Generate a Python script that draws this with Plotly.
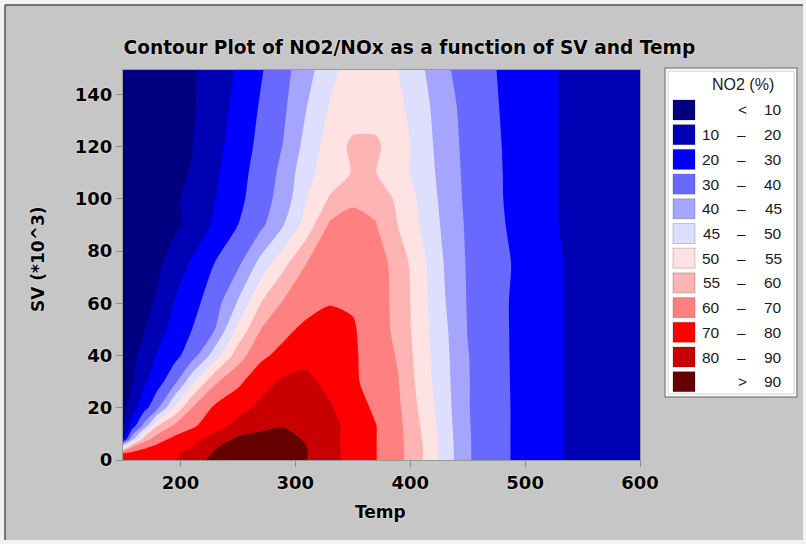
import numpy as np
import plotly.graph_objects as go

# ---------------- data ----------------
temp = [150, 158, 168, 180, 195, 210, 230, 250, 270, 290, 310, 330, 350, 370,
        390, 410, 430, 450, 475, 505, 535, 600]
sv = [0, 2.5, 5, 8, 13, 20, 30, 40, 50, 60, 75, 90, 100, 110, 120, 135, 150]

# NO2 (%) for each SV row, columns follow `temp`
no2_sv0 = [74, 75, 76, 76.5, 79.5, 85.4, 93, 97, 98, 97, 90, 83.1, 76.6, 70.3, 62.7, 55.4, 48, 40.5, 32.9, 25.8, 19.7, 13.5]
no2_sv2 = [71, 73, 73.5, 75.8, 78.5, 83, 91, 97, 98, 97, 90.3, 83.1, 76.6, 70.3, 62.7, 55.4, 48, 40.5, 32.9, 25.8, 19.7, 13.5]
no2_sv5 = [49, 60, 68.3, 72.4, 76, 79.5, 89, 95, 96, 95, 90, 83.1, 76.6, 70.3, 62.7, 55.4, 47.9, 40.5, 32.9, 25.8, 19.7, 13.5]
no2_sv8 = [19, 43.3, 57.1, 65.7, 72.6, 77, 83.3, 92, 94, 93.5, 88.8, 82.7, 76.6, 70.3, 62.7, 55, 47.7, 40.5, 32.9, 25.8, 19.7, 13.5]
no2_sv13 = [9.5, 25, 41.3, 55, 62.1, 68.3, 76.2, 83, 87, 89.5, 88, 83, 76.6, 70.3, 62.4, 54.6, 47.4, 40.4, 32.9, 25.8, 19.7, 13.5]
no2_sv20 = [6, 15, 26, 38, 50.8, 60, 71.8, 76.9, 82, 85, 84.5, 81, 74.7, 68.3, 61.4, 53.7, 47, 40.3, 32.9, 25.8, 19.7, 13.5]
no2_sv30 = [6, 9, 18, 25.9, 37.3, 48.6, 59.2, 67.8, 76.5, 81.5, 82, 77.4, 71.7, 65.9, 60.2, 52.8, 46.6, 40.3, 32.8, 25.7, 19.7, 13.5]
no2_sv40 = [6, 8.2, 12.3, 20.8, 27.1, 35.3, 47.5, 57.7, 67.8, 73.5, 77.5, 77, 71.5, 65.3, 59.5, 52.2, 46.3, 40.2, 32.7, 25.6, 19.7, 13.5]
no2_sv50 = [5.5, 7.1, 9.2, 15.7, 23.8, 30, 40, 51.1, 60, 67.1, 73, 75, 71, 64.8, 58.6, 51.9, 45.9, 39.7, 32.6, 25.6, 19.7, 13.5]
no2_sv60 = [5, 6, 7.5, 11.3, 20.4, 26.7, 35.5, 45.5, 55, 61.5, 65.5, 69.5, 69, 65, 58.3, 51.7, 45.3, 39.4, 32.5, 25.6, 19.7, 13.5]
no2_sv75 = [4.5, 5.5, 6.8, 8.5, 13.9, 21.7, 30.4, 38.1, 46.8, 53.8, 60.5, 65, 67, 65, 57.8, 51.4, 44.7, 39, 32.9, 26.1, 19.7, 13.5]
no2_sv90 = [3.8, 4.6, 5.7, 7.2, 8.8, 12, 21.7, 30, 37.7, 45, 52.2, 61.5, 64, 60.5, 54.7, 49.4, 43.9, 38.4, 31.8, 25.1, 18.8, 13]
no2_sv100 = [3.5, 4.3, 5.5, 7, 8.8, 12.5, 19.6, 27.6, 35.2, 42.3, 50, 55.5, 59, 58.5, 53.8, 48.9, 43.3, 37.9, 31.3, 24.8, 18.8, 13]
no2_sv110 = [3.2, 4, 5.1, 6.5, 8.3, 10.4, 18.4, 26.4, 34.1, 41.4, 48.6, 52.4, 55.3, 55.1, 51.7, 48.1, 42.8, 37.6, 31.2, 24.7, 18.8, 13]
no2_sv120 = [3, 3.7, 4.8, 6.2, 8, 9.7, 16.9, 24.8, 32.7, 40.3, 46.9, 52.3, 56, 55.8, 52.5, 47.6, 42.4, 37.3, 31, 24.6, 18.8, 13]
no2_sv135 = [2.5, 3, 4, 6, 7.5, 9, 15, 23, 31, 38.5, 45, 50.3, 52.5, 53, 51, 46.9, 41.8, 36.8, 30.5, 24.3, 19, 13]
no2_sv150 = [2, 3, 4, 5.5, 7, 9, 14, 21, 29, 37, 43, 48.5, 52, 53, 49.8, 45.6, 40.7, 36, 30, 24, 19, 13]

no2 = [no2_sv0, no2_sv2, no2_sv5, no2_sv8, no2_sv13, no2_sv20, no2_sv30,
       no2_sv40, no2_sv50, no2_sv60, no2_sv75, no2_sv90, no2_sv100,
       no2_sv110, no2_sv120, no2_sv135, no2_sv150]

level_breaks = [10, 20, 30, 40, 45, 50, 55, 60, 70, 80, 90]
band_colors = ['#000080', '#0000b4', '#0000ff', '#6969ff', '#a5a5ff', '#dedeff',
               '#ffe3e3', '#ffb4b4', '#ff8080', '#ff0000', '#c80000', '#640000']

x_ticks = [200, 300, 400, 500, 600]
y_ticks = [0, 20, 40, 60, 80, 100, 120, 140]

title_text = "Contour Plot of NO2/NOx as a function of SV and Temp"
x_title = "Temp"
y_title = "SV (*10^3)"
legend_title = "NO2 (%)"

# ---------------- figure ----------------
W, H = 806, 544
L, R, T, B = 123, 640, 70, 460          # plot area in pixels


def px2x(px):
    return (px - L) / (R - L)


def py2y(py):
    return (B - py) / (B - T)


# uneven class limits -> index space so that every band is one contour step
edges = [0] + level_breaks + [100]
z_idx = np.interp(np.array(no2, dtype=float), edges, np.arange(len(edges)))
n_bands = len(band_colors)
colorscale = [[i / (n_bands - 1), c] for i, c in enumerate(band_colors)]

fig = go.Figure()
fig.add_trace(go.Contour(
    x=temp, y=sv, z=z_idx,
    autocontour=False,
    contours=dict(start=1, end=len(level_breaks), size=1,
                  coloring='fill', showlines=False),
    colorscale=colorscale,
    line=dict(width=0, smoothing=0.7),
    showscale=False,
    hoverinfo='skip',
))

bold_font = dict(family='DejaVu Sans', size=18, color='black', weight='bold',
                 shadow='0px 0px 2px #fffbea')

fig.update_layout(
    width=W, height=H,
    margin=dict(l=L, r=W - R, t=T, b=H - B, pad=0),
    paper_bgcolor='#f2f2f2',
    plot_bgcolor='#000080',
    showlegend=False,
    title=dict(text=title_text, x=0.508, xanchor='center', xref='container',
               y=1 - 47 / H, yanchor='middle', yref='container',
               font=dict(family='DejaVu Sans', size=18.6, color='black', weight='bold',
                         shadow='0px 0px 2px #fffbea')),
    xaxis=dict(range=[150, 600], tickvals=x_ticks, ticks='outside', ticklen=6,
               tickcolor='#8a8a8a', showline=True, linecolor='#9a9a9a', mirror=True,
               showgrid=False, zeroline=False, tickfont=bold_font),
    yaxis=dict(range=[0, 149.3], tickvals=y_ticks, ticks='outside', ticklen=6,
               tickcolor='#8a8a8a', showline=True, linecolor='#9a9a9a', mirror=True,
               showgrid=False, zeroline=False, tickfont=bold_font),
)

shapes = []
# grey panel with a sunken frame
shapes.append(dict(type='rect', xref='paper', yref='paper', layer='below',
                   x0=px2x(5), x1=px2x(803), y0=py2y(5), y1=py2y(540),
                   fillcolor='#c6c6c6', line=dict(width=0)))
shapes.append(dict(type='line', xref='paper', yref='paper', layer='below',
                   x0=px2x(5), x1=px2x(803), y0=py2y(5), y1=py2y(5),
                   line=dict(color='#505050', width=1.5)))
shapes.append(dict(type='line', xref='paper', yref='paper', layer='below',
                   x0=px2x(5), x1=px2x(5), y0=py2y(5), y1=py2y(540),
                   line=dict(color='#505050', width=1.5)))
# legend box
shapes.append(dict(type='rect', xref='paper', yref='paper',
                   x0=px2x(665), x1=px2x(797), y0=py2y(68), y1=py2y(397),
                   fillcolor='white', line=dict(color='#8c8c8c', width=1.5)))
shapes.append(dict(type='rect', xref='paper', yref='paper',
                   x0=px2x(668), x1=px2x(794), y0=py2y(71), y1=py2y(394),
                   fillcolor='rgba(0,0,0,0)', line=dict(color='#d0d0d0', width=1)))

annotations = []
annotations.append(dict(text=x_title, xref='paper', yref='paper',
                        x=px2x(380.5), y=py2y(512), xanchor='center', yanchor='middle',
                        showarrow=False, font=dict(bold_font, size=17)))
annotations.append(dict(text=y_title, xref='paper', yref='paper',
                        x=px2x(38), y=py2y(260), xanchor='center', yanchor='middle',
                        textangle=-90, showarrow=False, font=dict(bold_font, size=17)))
annotations.append(dict(text=legend_title, xref='paper', yref='paper',
                        x=px2x(743), y=py2y(85), xanchor='center', yanchor='middle',
                        showarrow=False,
                        font=dict(family='Liberation Sans', size=16, color='#1a1a1a')))

leg_font = dict(family='Liberation Sans', size=15.5, color='#1a1a1a')
row0, step = 110, 24.7
for i, col in enumerate(band_colors):
    yc = row0 + i * step
    shapes.append(dict(type='rect', xref='paper', yref='paper',
                       x0=px2x(673), x1=px2x(695), y0=py2y(yc - 10), y1=py2y(yc + 10),
                       fillcolor=col, line=dict(color='rgba(0,0,0,0.2)', width=1)))
    if i == 0:
        parts = [('<', 742, 'center'), (str(level_breaks[0]), 783.5, 'right')]
    elif i == n_bands - 1:
        parts = [('>', 742, 'center'), (str(level_breaks[-1]), 783.5, 'right')]
    else:
        parts = [(str(level_breaks[i - 1]), 721.5, 'right'), ('–', 741, 'center'),
                 (str(level_breaks[i]), 783.5, 'right')]
    for txt, xp, anc in parts:
        annotations.append(dict(text=txt, xref='paper', yref='paper',
                                x=px2x(xp), y=py2y(yc), xanchor=anc, yanchor='middle',
                                showarrow=False, font=leg_font))

fig.update_layout(shapes=shapes, annotations=annotations)
fig.write_html("out.html")
